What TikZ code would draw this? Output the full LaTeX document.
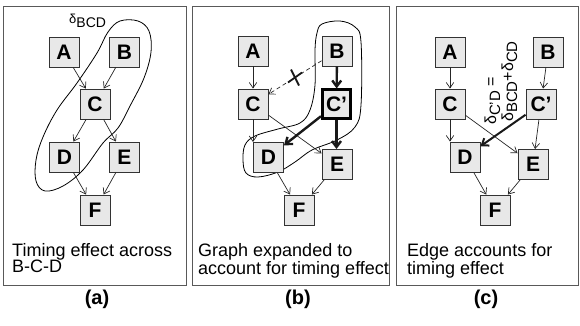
\documentclass[tikz,border=0pt]{standalone}
\usepackage{fontspec}
\setmainfont{Liberation Sans}
\usetikzlibrary{arrows.meta,calc}
% lowered subscript for the delta labels
\newcommand\dsub[2][15]{\raisebox{-4pt}{\fontsize{#1}{#1}\selectfont #2}}
\begin{document}
\begin{tikzpicture}[x=1pt,y=-1pt,
  box/.style={draw=black!80, fill=black!9, line width=0.9pt, minimum size=30pt,
    inner sep=0pt, font=\fontsize{21}{21}\selectfont\bfseries},
  strongbox/.style={box, draw=black, line width=2.6pt, minimum size=28.5pt},
  edge/.style={draw=black!85, line width=0.7pt, -{Straight Barb[length=5.5pt,width=7.5pt]}},
  heavy/.style={draw=black!90, line width=2.4pt, -{Straight Barb[length=6pt,width=9pt]}},
  frame/.style={draw=black!65, line width=0.9pt},
  loopline/.style={draw=black, line width=0.8pt},
  caption/.style={anchor=north west, align=left, inner sep=0pt,
    font=\fontsize{18}{16.5}\selectfont},
  tag/.style={inner sep=0pt, font=\fontsize{20}{20}\selectfont\bfseries},
  eq/.style={rotate=90, anchor=base west, inner sep=0pt, font=\fontsize{16}{16}\selectfont}
]
\useasboundingbox (0,0) rectangle (580,325);

% panel frames
\draw[frame] (3.5,6) rectangle (186,285);
\draw[frame] (192.5,6) rectangle (389,285);
\draw[frame] (396,6) rectangle (578,285);

% ---------- (a) ----------
\draw[loopline] plot[smooth cycle, tension=0.6] coordinates {
  (120,21) (138,21) (149,31) (151,52) (144,78) (130,106) (118,128) (103,143)
  (83,170) (63,186) (45,191) (36,181) (36,160) (43,137) (57,110) (77,83)
  (97,53) (108,32)};
\node[anchor=base west, inner sep=0pt, font=\fontsize{13}{13}\selectfont] (dBCD) at (69,23)
  {δ\dsub[14]{BCD}};

\node[box] (aA) at (64,52) {A};
\node[box] (aB) at (124.5,52) {B};
\node[box] (aC) at (95,104) {C};
\node[box] (aD) at (64.5,157) {D};
\node[box] (aE) at (124.5,157) {E};
\node[box] (aF) at (95,210) {F};
\draw[edge] (aA) -- (aC);
\draw[edge] (aB) -- (aC);
\draw[edge] (aC) -- (aD);
\draw[edge] (aC) -- (aE);
\draw[edge] (aD) -- (aF);
\draw[edge] (aE) -- (aF);
\node[caption] (capA) at (12,243) {Timing effect across\\B-C-D};
\node[tag] (tagA) at (97,299) {(a)};

% ---------- (b) ----------
\draw[loopline] plot[smooth cycle, tension=0.6] coordinates {
  (322,24) (340,21) (355,27) (361,42) (361,105) (355,127) (337,140) (312,150)
  (295,162) (278,172) (258,177) (246,173) (243,160) (245,145) (255,136)
  (278,129) (300,123) (310,110) (315,85) (315,50) (317,33)};

\node[box] (bA) at (253,51) {A};
\node[box] (bB) at (337,51) {B};
\node[box] (bC) at (253,104) {C};
\node[strongbox] (bCp) at (336.5,104) {C’};
\node[box] (bD) at (268.5,157.5) {D};
\node[box] (bE) at (337,164.5) {E};
\node[box] (bF) at (299,210) {F};
\draw[edge] (bA) -- (bC);
\draw[edge, dash pattern=on 4pt off 3pt] (bB) -- (bC);
\coordinate (bX) at ($(bB)!0.5!(bC)$);
\draw[line width=1.8pt, black!90] ($(bX)+(-4,-8)$) -- ($(bX)+(4,8)$);
\draw[line width=1.8pt, black!90] ($(bX)+(-7,5)$) -- ($(bX)+(7,-5)$);
\draw[heavy] (bB) -- (bCp);
\draw[edge] (bC.south) -- (bC.south |- bD.north);
\draw[edge] (bC) -- (bE);
\draw[heavy] (bCp) -- (bD);
\draw[heavy] (bCp.south) -- (bCp.south |- bE.north);
\draw[edge] (bD) -- (bF);
\draw[edge] (bE) -- (bF);
\node[caption] (capB) at (198,243) {Graph expanded to\\account for timing effect};
\node[tag] (tagB) at (298,299) {(b)};

% ---------- (c) ----------
\node[box] (cA) at (450,52) {A};
\node[box] (cB) at (548,52) {B};
\node[box] (cC) at (450,104) {C};
\node[box] (cCp) at (541,104) {C’};
\node[box] (cD) at (465,157) {D};
\node[box] (cE) at (533,164.5) {E};
\node[box] (cF) at (495,210) {F};
\draw[edge] (cA) -- (cC);
\draw[edge] (cB) -- (cCp);
\draw[edge] (cC.south) -- (cC.south |- cD.north);
\draw[edge] (cC) -- (cE);
\draw[heavy, line width=2pt] (cCp) -- (cD);
\draw[edge] (cCp) -- (cE);
\draw[edge] (cD) -- (cF);
\draw[edge] (cE) -- (cF);
\node[eq] (eqA) at (496,125) {δ\dsub{C’D} =};
\node[eq] (eqB) at (513,122) {δ\dsub{BCD}+δ\dsub{CD}};
\node[caption] (capC) at (407,243) {Edge accounts for\\timing effect};
\node[tag] (tagC) at (486,299) {(c)};
\end{tikzpicture}
\end{document}
